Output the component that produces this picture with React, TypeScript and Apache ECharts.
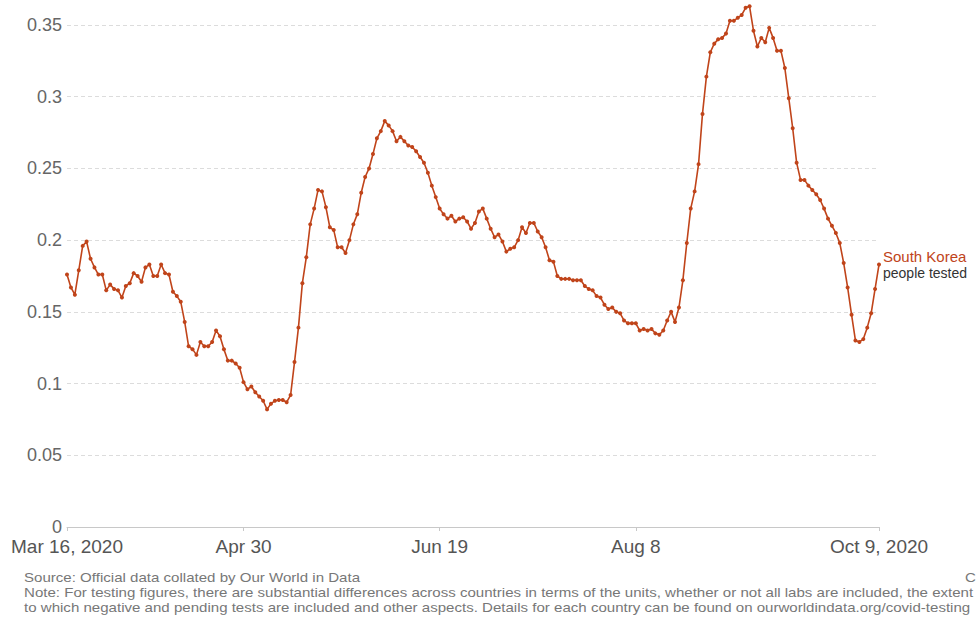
import React, { useEffect, useRef } from "react";
import * as echarts from "echarts";

const startDate = "2020-03-16";
const seriesName = "South Korea";
const seriesSub = "people tested";

const values: number[] = [
  0.176, 0.167, 0.162, 0.179, 0.196, 0.199, 0.187, 0.181, 0.176, 0.176,
  0.165, 0.169, 0.166, 0.165, 0.160, 0.168, 0.170, 0.177, 0.175, 0.171,
  0.181, 0.183, 0.175, 0.175, 0.183, 0.177, 0.176, 0.164, 0.161, 0.157,
  0.143, 0.126, 0.124, 0.120, 0.129, 0.126, 0.126, 0.129, 0.137, 0.133,
  0.124, 0.116, 0.116, 0.114, 0.111, 0.101, 0.096, 0.098, 0.094, 0.091,
  0.088, 0.082, 0.086, 0.088, 0.0885, 0.0885, 0.087, 0.092, 0.115, 0.139,
  0.170, 0.188, 0.211, 0.222, 0.235, 0.234, 0.223, 0.209, 0.207, 0.195,
  0.195, 0.191, 0.200, 0.211, 0.218, 0.233, 0.244, 0.250, 0.260, 0.271,
  0.276, 0.283, 0.280, 0.276, 0.269, 0.272, 0.269, 0.266, 0.265, 0.262,
  0.258, 0.254, 0.247, 0.238, 0.230, 0.222, 0.218, 0.215, 0.217, 0.213,
  0.215, 0.216, 0.213, 0.208, 0.212, 0.220, 0.222, 0.215, 0.208, 0.202,
  0.204, 0.199, 0.192, 0.194, 0.195, 0.200, 0.209, 0.205, 0.212, 0.212,
  0.206, 0.202, 0.195, 0.186, 0.185, 0.175, 0.173, 0.173, 0.173, 0.172,
  0.172, 0.172, 0.168, 0.166, 0.165, 0.161, 0.160, 0.155, 0.152, 0.153,
  0.150, 0.149, 0.144, 0.142, 0.142, 0.142, 0.137, 0.138, 0.137, 0.138,
  0.135, 0.134, 0.137, 0.144, 0.150, 0.143, 0.153, 0.172, 0.198, 0.222,
  0.234, 0.253, 0.288, 0.314, 0.331, 0.337, 0.340, 0.341, 0.344, 0.353,
  0.353, 0.355, 0.357, 0.362, 0.363, 0.346, 0.335, 0.341, 0.338, 0.348,
  0.341, 0.332, 0.332, 0.320, 0.299, 0.278, 0.254, 0.242, 0.242, 0.238,
  0.235, 0.232, 0.228, 0.222, 0.215, 0.210, 0.205, 0.198, 0.184, 0.167,
  0.148, 0.130, 0.129, 0.131, 0.139, 0.149, 0.166, 0.183,
];

const tickIndices: number[] = [0, 45, 95, 145, 207];
const tickLabels: string[] = ["Mar 16, 2020", "Apr 30", "Jun 19", "Aug 8", "Oct 9, 2020"];

const sourceText = "Source: Official data collated by Our World in Data";
const licenseText = "CC BY";
const noteLine1 =
  "Note: For testing figures, there are substantial differences across countries in terms of the units, whether or not all labs are included, the extent";
const noteLine2 =
  "to which negative and pending tests are included and other aspects. Details for each country can be found on ourworldindata.org/covid-testing";

function buildCategories(start: string, n: number): string[] {
  const out: string[] = [];
  const d0 = new Date(start + "T00:00:00Z").getTime();
  for (let i = 0; i < n; i++) {
    const d = new Date(d0 + i * 86400000);
    out.push(d.toISOString().slice(0, 10));
  }
  return out;
}

const categories = buildCategories(startDate, values.length);

const LINE = "#c0441a";
const FONT = "Liberation Sans, Arial, sans-serif";
const NOTE_SCALE = 1.16;

export default function App() {
  const ref = useRef<HTMLDivElement>(null);
  useEffect(() => {
    document.body.style.margin = "0";
    if (!ref.current) return;
    const chart = echarts.init(ref.current, undefined, { renderer: "svg" });
    const noteStyle = { fill: "#777", fontSize: 13, fontFamily: FONT };
    chart.setOption({
      animation: false,
      textStyle: { fontFamily: FONT },
      grid: { left: 67, right: 97, top: 25, bottom: 95, containLabel: false },
      xAxis: {
        type: "category",
        data: categories,
        boundaryGap: false,
        axisLine: { show: true, lineStyle: { color: "#c8c8c8", width: 1 } },
        axisTick: {
          show: true,
          interval: (i: number) => tickIndices.includes(i),
          length: 4,
          lineStyle: { color: "#c8c8c8" },
        },
        axisLabel: {
          interval: (i: number) => tickIndices.includes(i),
          formatter: (_v: string, i: number) => {
            const k = tickIndices.indexOf(i);
            return k >= 0 ? tickLabels[k] : "";
          },
          color: "#555",
          fontSize: 19,
          margin: 10,
          fontFamily: FONT,
        },
        splitLine: { show: false },
      },
      yAxis: {
        type: "value",
        min: 0,
        max: 0.35,
        interval: 0.05,
        axisLine: { show: false },
        axisTick: { show: false },
        axisLabel: { color: "#666", fontSize: 18, margin: 5, fontFamily: FONT },
        splitLine: { show: true, lineStyle: { color: "#dcdcdc", type: [4, 3], width: 1 } },
      },
      series: [
        {
          type: "line",
          name: seriesName,
          data: values,
          clip: false,
          showSymbol: true,
          showAllSymbol: true,
          symbol: "circle",
          symbolSize: 4,
          itemStyle: { color: LINE },
          lineStyle: { color: LINE, width: 1.6 },
          endLabel: {
            show: true,
            distance: 4,
            formatter: () => `{a|${seriesName}}\n{b|${seriesSub}}`,
            rich: {
              a: { color: LINE, fontSize: 15, fontFamily: FONT, lineHeight: 16 },
              b: { color: "#333", fontSize: 14, fontFamily: FONT, lineHeight: 16 },
            },
          },
        },
      ],
      graphic: [
        {
          type: "text",
          x: 24,
          y: 571,
          scaleX: NOTE_SCALE,
          style: { text: sourceText, ...noteStyle },
        },
        {
          type: "text",
          x: 965,
          y: 571,
          scaleX: NOTE_SCALE,
          style: { text: licenseText, ...noteStyle },
        },
        {
          type: "text",
          x: 24,
          y: 586,
          scaleX: NOTE_SCALE,
          style: { text: noteLine1, ...noteStyle },
        },
        {
          type: "text",
          x: 24,
          y: 601,
          scaleX: NOTE_SCALE,
          style: { text: noteLine2, ...noteStyle },
        },
      ],
    });
    return () => chart.dispose();
  }, []);
  return <div ref={ref} style={{ width: 976, height: 622 }} />;
}
